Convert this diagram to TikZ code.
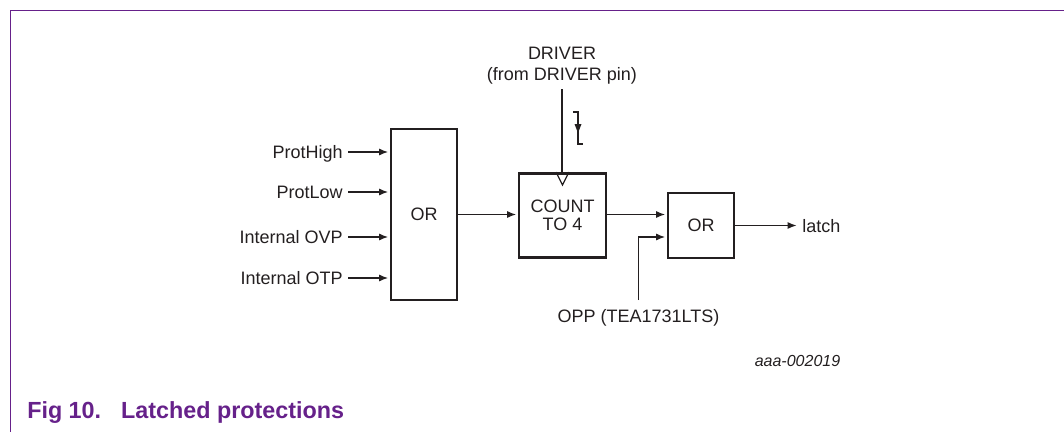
\documentclass[tikz,border=0pt]{standalone}
\usepackage{fontspec}
\setmainfont{Liberation Sans}
\usetikzlibrary{arrows.meta,calc}
\definecolor{nxppurple}{RGB}{102,33,138}
\definecolor{ink}{RGB}{35,31,32}
\begin{document}
\begin{tikzpicture}[x=0.75pt,y=-0.75pt,
  every node/.style={font=\fontsize{13.5pt}{13.5pt}\selectfont, inner sep=0pt, text=ink},
  blk/.style={draw=ink, line width=2.2pt, text height=9.67pt, text depth=0pt},
  lbl/.style={text height=9.67pt, text depth=0pt, inner xsep=3.75pt, inner ysep=0pt},
  conn/.style={draw=ink, line width=1.05pt},
  arr/.style={conn, -{Latex[length=6.75pt,width=5.25pt]}, shorten >=1pt}]
\useasboundingbox (0,0) rectangle (1064,432);
% frame
\draw[nxppurple, line width=1.1pt] (1064,10.5) -- (10.5,10.5) -- (10.5,432);
% blocks
\node[blk, minimum width=49.5pt, minimum height=128.25pt] (or1) at (424,214.5) {OR};
\node[draw=ink, line width=2.2pt, minimum width=65.25pt, minimum height=63pt, align=center,
      font=\fontsize{13.5pt}{13.75pt}\selectfont] (count) at (562.5,215.5) {COUNT\\TO 4};
\node[blk, minimum width=49.5pt, minimum height=48.75pt] (or2) at (701,225.5) {OR};
% inputs
\foreach \t/\y/\n in {ProtHigh/152/i1, ProtLow/192/i2, Internal OVP/237/i3, Internal OTP/278/i4} {
  \node[lbl, anchor=east] (\n) at (348,\y) {\t};
  \draw[arr] (\n.east) -- (\n.east -| or1.west);
}
\draw[arr] (or1.east) -- (or1.east -| count.west);
\draw[arr] (or1.east -| count.east) -- (or1.east -| or2.west);
% OPP
\node[lbl, anchor=north] (opp) at (638.5,309) {OPP (TEA1731LTS)};
\draw[arr, shorten <=6.75pt] (opp.north) |- ($(or2.west)+(0,11.5)$);
% latch
\node[lbl, anchor=west, inner xsep=3pt] (latch) at (798,226) {latch};
\draw[arr] (or2.east) -- (or2.east -| latch.west);
% DRIVER
\node[anchor=base] (drv1) at (562,59) {DRIVER};
\node[anchor=base] (drv2) at (562,80) {(from DRIVER pin)};
\coordinate (drvend) at (562,89);
\draw[conn] (drvend) -- (drvend |- count.north);
% clock triangle
\draw[conn, line width=0.9pt, line join=miter] ($(count.north)+(-6.5,0)$) -- ($(count.north)+(0,13)$) -- ($(count.north)+(6.5,0)$);
% falling edge symbol
\draw[conn, line width=0.9pt] (573,112) -- (578,112) -- (578,144) -- (583,144);
\fill[ink] (574.5,124) -- (581.5,124) -- (578,133) -- cycle;
% code
\node[anchor=base, font=\fontsize{12pt}{12pt}\selectfont\itshape] (code) at (797.5,366) {aaa-002019};
% caption
\node[anchor=base west, font=\fontsize{17.5pt}{17.5pt}\selectfont\bfseries, text=nxppurple] (cap) at (27,418) {Fig 10.\hspace{15pt}Latched protections};
\end{tikzpicture}
\end{document}
